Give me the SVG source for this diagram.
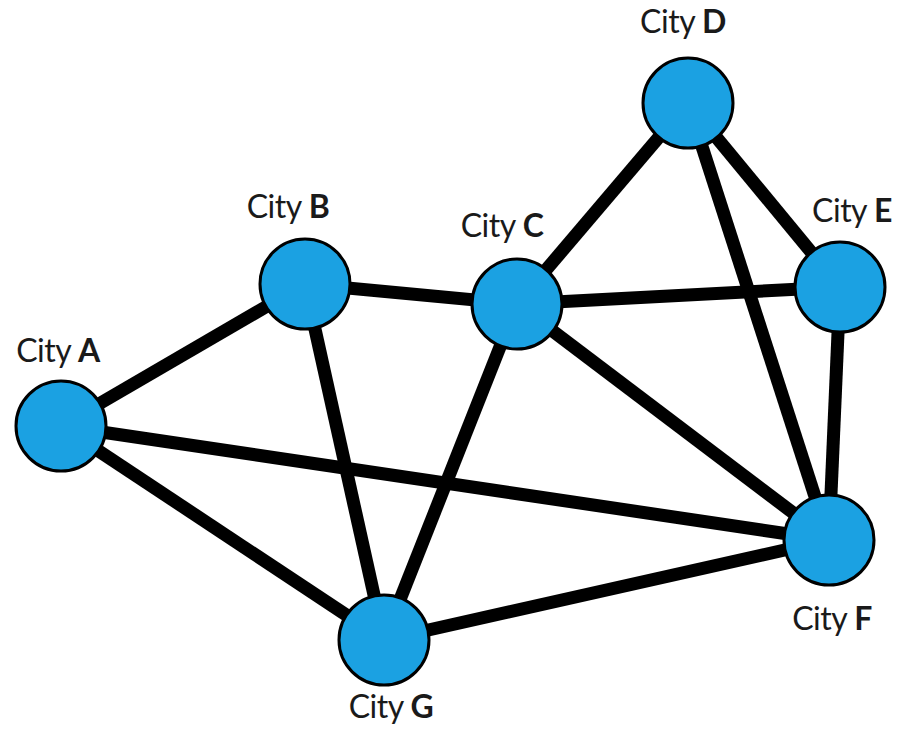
<svg xmlns="http://www.w3.org/2000/svg" width="900" height="729" viewBox="0 0 900 729">
  <style>
    .edge { stroke: #000; stroke-width: 13; stroke-linecap: butt; }
    .city { fill: #1ba1e2; stroke: #000; stroke-width: 3; }
    .label { font-family: Lato, "Open Sans", "Liberation Sans", sans-serif; font-size: 32px; fill: #1a1a1a; text-anchor: middle; letter-spacing: -0.5px; }
    .label tspan.b { font-weight: bold; }
  </style>
  <rect width="900" height="729" fill="#fff"/>
  <g id="connectors">
    <line class="edge" x1="61" y1="426" x2="305" y2="284"/>
    <line class="edge" x1="61" y1="426" x2="829" y2="540"/>
    <line class="edge" x1="61" y1="426" x2="384" y2="640"/>
    <line class="edge" x1="305" y1="284" x2="517" y2="304"/>
    <line class="edge" x1="305" y1="284" x2="384" y2="640"/>
    <line class="edge" x1="517" y1="304" x2="688" y2="103"/>
    <line class="edge" x1="517" y1="304" x2="840" y2="287"/>
    <line class="edge" x1="517" y1="304" x2="829" y2="540"/>
    <line class="edge" x1="517" y1="304" x2="384" y2="640"/>
    <line class="edge" x1="688" y1="103" x2="840" y2="287"/>
    <line class="edge" x1="688" y1="103" x2="829" y2="540"/>
    <line class="edge" x1="840" y1="287" x2="829" y2="540"/>
    <line class="edge" x1="384" y1="640" x2="829" y2="540"/>
  </g>
  <g id="city-a">
    <circle class="city" cx="61" cy="426" r="45"/>
    <text class="label" x="58" y="362">City <tspan class="b">A</tspan></text>
  </g>
  <g id="city-b">
    <circle class="city" cx="305" cy="284" r="45"/>
    <text class="label" x="288" y="218">City <tspan class="b">B</tspan></text>
  </g>
  <g id="city-c">
    <circle class="city" cx="517" cy="304" r="45"/>
    <text class="label" x="502" y="237">City <tspan class="b">C</tspan></text>
  </g>
  <g id="city-d">
    <circle class="city" cx="688" cy="103" r="45"/>
    <text class="label" x="683" y="33">City <tspan class="b">D</tspan></text>
  </g>
  <g id="city-e">
    <circle class="city" cx="840" cy="287" r="45"/>
    <text class="label" x="852" y="222">City <tspan class="b">E</tspan></text>
  </g>
  <g id="city-f">
    <circle class="city" cx="829" cy="540" r="45"/>
    <text class="label" x="832" y="630">City <tspan class="b">F</tspan></text>
  </g>
  <g id="city-g">
    <circle class="city" cx="384" cy="640" r="45"/>
    <text class="label" x="391" y="718">City <tspan class="b">G</tspan></text>
  </g>
</svg>
